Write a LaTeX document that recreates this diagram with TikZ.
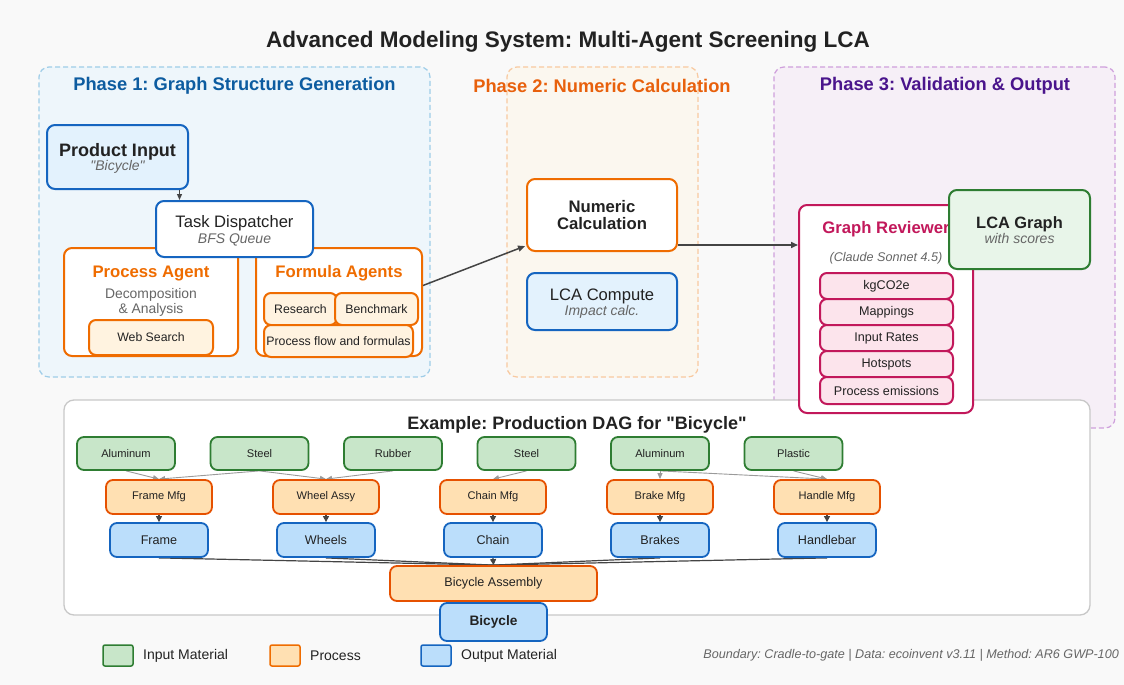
\documentclass[tikz,border=0pt]{standalone}
\usepackage{fontspec}
\setmainfont{Liberation Sans}[Ligatures=TeXOff]
\usetikzlibrary{arrows.meta,calc}
\pgfdeclarelayer{bg}
\pgfdeclarelayer{edges}
\pgfsetlayers{bg,edges,main}
\definecolor{cBlue}{HTML}{1565C0}
\definecolor{cBlueL}{HTML}{E3F2FD}
\definecolor{cBlueM}{HTML}{BBDEFB}
\definecolor{cOr}{HTML}{EF6C00}
\definecolor{cOrD}{HTML}{E65100}
\definecolor{cOrL}{HTML}{FFF3E0}
\definecolor{cOrM}{HTML}{FFE0B2}
\definecolor{cGr}{HTML}{2E7D32}
\definecolor{cGrL}{HTML}{E8F5E9}
\definecolor{cGrM}{HTML}{C8E6C9}
\definecolor{cMag}{HTML}{C2185B}
\definecolor{cMagL}{HTML}{FCE4EC}
\definecolor{pOneB}{HTML}{9FCDE8}
\definecolor{pOneF}{HTML}{EEF6FB}
\definecolor{pTwoB}{HTML}{F8C9A0}
\definecolor{pTwoF}{HTML}{FBF7EF}
\definecolor{pThrB}{HTML}{CFA0DC}
\definecolor{pThrF}{HTML}{F6EFF7}
\definecolor{pOneT}{HTML}{0D5CA0}
\definecolor{pTwoT}{HTML}{E8600C}
\definecolor{pThrT}{HTML}{4A148C}
\definecolor{cBg}{HTML}{F9F9F9}
\definecolor{cDag}{HTML}{C8C8C8}
\definecolor{cText}{HTML}{222222}
\definecolor{cGray}{HTML}{666666}
\definecolor{cArr}{HTML}{444444}
\definecolor{cLight}{HTML}{9A9A9A}
\newcommand\fsz[1]{\fontsize{#1}{#1}\selectfont}
\frenchspacing
\begin{document}
\begin{tikzpicture}[x=1pt,y=-1pt,
  box/.style={draw, rounded corners=8pt, line width=2pt, inner sep=0pt},
  bluebox/.style={box, draw=cBlue, fill=cBlueL},
  whiteblue/.style={box, draw=cBlue, fill=white},
  whiteor/.style={box, draw=cOr, fill=white},
  orsmall/.style={box, draw=cOr, fill=cOrL, rounded corners=7pt, text=cText, font=\fsz{12.3}},
  magsmall/.style={box, draw=cMag, fill=cMagL, rounded corners=7pt, text=cText, font=\fsz{12.6}},
  phase/.style={draw, dashed, dash pattern=on 5pt off 3pt, line width=1.2pt, rounded corners=10pt, inner sep=0pt},
  ttl/.style={inner sep=0pt, yshift=-2pt, font=\bfseries\fsz{18.3}},
  txt/.style={inner sep=0pt, yshift=-1.5pt, text=cText},
  sub/.style={inner sep=0pt, yshift=-1.5pt, text=cGray, font=\itshape\fsz{14}},
  inode/.style={draw=cGr, fill=cGrM, line width=1.8pt, rounded corners=7pt, minimum width=98pt, minimum height=33pt, inner sep=0pt, text=cText, font=\fsz{11.1}},
  pnode/.style={draw=cOrD, fill=cOrM, line width=1.8pt, rounded corners=7pt, minimum width=106pt, minimum height=34pt, inner sep=0pt, text=cText, font=\fsz{11.1}},
  onode/.style={draw=cBlue, fill=cBlueM, line width=1.8pt, rounded corners=7pt, minimum width=98pt, minimum height=34pt, inner sep=0pt, text=cText, font=\fsz{12.6}},
  darr/.style={draw=cArr, line width=1.5pt, -{Triangle[length=7pt,width=6pt]}},
  garr/.style={draw=cLight, line width=0.9pt, -{Triangle[length=6pt,width=5pt]}},
  lnk/.style={draw=cArr, line width=1.2pt},
  legsq/.style={draw, line width=1.5pt, rounded corners=2pt, minimum width=30pt, minimum height=21pt, inner sep=0pt},
  legtx/.style={inner sep=0pt, anchor=west, text=cText, font=\fsz{14}}
]
\useasboundingbox (0,0) rectangle (1124,685);
\begin{pgfonlayer}{bg}
\fill[cBg] (0,0) rectangle (1124,685);
\node[phase, draw=pOneB, fill=pOneF, minimum width=391pt, minimum height=310pt] (ph1) at (234.5,222) {};
\node[phase, draw=pTwoB, fill=pTwoF, minimum width=191pt, minimum height=310pt] (ph2) at (602.5,222) {};
\node[phase, draw=pThrB, fill=pThrF, minimum width=341pt, minimum height=361pt] (ph3) at (944.5,247.5) {};
\node[draw=cDag, fill=white, line width=1.3pt, rounded corners=10pt, minimum width=1026pt, minimum height=215pt, inner sep=0pt] (dag) at (577,507.5) {};
\end{pgfonlayer}

% title
\node[txt, font=\bfseries\fsz{22.5}] (title) at (568,40) {Advanced Modeling System: Multi-Agent Screening LCA};
\node[ttl, text=pOneT] (ph1t) at (234.5,84) {Phase 1: Graph Structure Generation};
\node[ttl, text=pTwoT] (ph2t) at (602,84) {Phase 2: Numeric Calculation};
\node[ttl, text=pThrT] (ph3t) at (945,84) {Phase 3: Validation \& Output};

% Phase 1
\node[bluebox, minimum width=141pt, minimum height=64pt] (prod) at (117.5,157) {};
\node[txt, font=\bfseries\fsz{18}] (prodT) at (117.5,150) {Product Input};
\node[sub] (prodS) at (117.5,165) {"Bicycle"};

\node[whiteor, minimum width=174pt, minimum height=108pt] (pa) at (151,302) {};
\node[txt, text=cOr, font=\bfseries\fsz{16.7}] (paT) at (151,272) {Process Agent};
\node[txt, text=cGray, font=\fsz{13.9}] (paD1) at (151,293) {Decomposition};
\node[txt, text=cGray, font=\fsz{13.9}] (paD2) at (151,308) {\& Analysis};
\node[orsmall, minimum width=124pt, minimum height=35pt] (web) at (151,337.5) {Web Search};

\node[whiteor, minimum width=166pt, minimum height=108pt] (fa) at (339,302) {};
\node[txt, text=cOr, font=\bfseries\fsz{16.7}] (faT) at (339,272) {Formula Agents};
\node[orsmall, minimum width=73pt, minimum height=32pt] (res) at (300.5,309) {Research};
\node[orsmall, minimum width=83pt, minimum height=32pt] (bench) at (376.5,309) {Benchmark};
\node[orsmall, minimum width=149pt, minimum height=32pt] (pff) at (338.5,341) {Process flow and formulas};

\node[whiteblue, minimum width=157pt, minimum height=56pt] (disp) at (234.5,229) {};
\node[txt, font=\fsz{16.6}] (dispT) at (234.5,222) {Task Dispatcher};
\node[sub] (dispS) at (234.5,238) {BFS Queue};

% Phase 2
\node[whiteor, minimum width=150pt, minimum height=72pt, align=center, text=cText, font=\bfseries\fsz{16.7}] (num) at (602,215) {Numeric\\[1pt]Calculation};
\node[bluebox, minimum width=150pt, minimum height=57pt] (lca) at (602,301.5) {};
\node[txt, font=\fsz{16.6}] (lcaT) at (602,295) {LCA Compute};
\node[sub] (lcaS) at (602,310) {Impact calc.};

% Phase 3
\node[box, draw=cMag, fill=white, minimum width=174pt, minimum height=208pt] (gr) at (886,309) {};
\node[txt, text=cMag, font=\bfseries\fsz{16.7}] (grT) at (886,228) {Graph Reviewer};
\node[txt, text=cGray, font=\itshape\fsz{12.6}] (grS) at (886,257) {(Claude Sonnet 4.5)};
\node[magsmall, minimum width=133pt, minimum height=26pt] (it1) at (886.5,286) {kgCO2e};
\node[magsmall, minimum width=133pt, minimum height=26pt] (it2) at (886.5,312) {Mappings};
\node[magsmall, minimum width=133pt, minimum height=26pt] (it3) at (886.5,338) {Input Rates};
\node[magsmall, minimum width=133pt, minimum height=26pt] (it4) at (886.5,364) {Hotspots};
\node[magsmall, minimum width=133pt, minimum height=27pt] (it5) at (886.5,390.5) {Process emissions};
\node[box, draw=cGr, fill=cGrL, minimum width=141pt, minimum height=79pt] (lcag) at (1019.5,229.5) {};
\node[txt, font=\bfseries\fsz{16.4}] (lcagT) at (1019.5,223) {LCA Graph};
\node[sub] (lcagS) at (1019.5,237) {with scores};

% phase arrows
\coordinate (pd1) at ($(prod.south east)+(-9.5,0)$);
\draw[darr, line width=1.2pt, -{Triangle[length=6pt,width=5pt]}] (pd1) -- (pd1 |- disp.north);
\coordinate (fa1) at ($(fa.north east)!0.35!(fa.south east)$);
\coordinate (nm1) at ($(num.north west)!0.92!(num.south west)+(-1,0)$);
\draw[darr] (fa1) -- (nm1);
\coordinate (nm2) at ($(num.south east)+(0,-7)$);
\draw[darr] (nm2) -- (nm2 -| gr.west);

% DAG
\node[txt, font=\bfseries\fsz{18}] (dagT) at (577,423) {Example: Production DAG for "Bicycle"};
\node[inode] (in1) at (126,453.5) {Aluminum};
\node[inode] (in2) at (259.5,453.5) {Steel};
\node[inode] (in3) at (393,453.5) {Rubber};
\node[inode] (in4) at (526.5,453.5) {Steel};
\node[inode] (in5) at (660,453.5) {Aluminum};
\node[inode] (in6) at (793.5,453.5) {Plastic};
\node[pnode] (pm1) at (159,497) {Frame Mfg};
\node[pnode] (pm2) at (326,497) {Wheel Assy};
\node[pnode] (pm3) at (493,497) {Chain Mfg};
\node[pnode] (pm4) at (660,497) {Brake Mfg};
\node[pnode] (pm5) at (827,497) {Handle Mfg};
\node[onode] (out1) at (159,540) {Frame};
\node[onode] (out2) at (326,540) {Wheels};
\node[onode] (out3) at (493,540) {Chain};
\node[onode] (out4) at (660,540) {Brakes};
\node[onode] (out5) at (827,540) {Handlebar};
\node[pnode, minimum width=207pt, minimum height=35pt, font=\fsz{12.6}] (asm) at (493.5,583.5) {Bicycle Assembly};
\node[onode, minimum width=107pt, minimum height=38pt, font=\bfseries\fsz{13.7}] (bike) at (493.5,622) {Bicycle};

\begin{pgfonlayer}{edges}
\draw[garr] (in1.south) -- (pm1.north);
\draw[garr] (in2.south) -- (pm1.north);
\draw[garr] (in2.south) -- (pm2.north);
\draw[garr] (in3.south) -- (pm2.north);
\draw[garr] (in4.south) -- (pm3.north);
\draw[garr] (in5.south) -- (pm4.north);
\draw[garr] (in5.south) -- (pm5.north);
\draw[garr] (in6.south) -- (pm5.north);
\foreach \i in {1,...,5}{
  \draw[darr, line width=1.2pt, -{Triangle[length=6pt,width=6pt]}] (pm\i.south) -- (out\i.north);
}
\draw[lnk] (out1.south) -- (asm.north);
\draw[lnk] (out2.south) -- (asm.north);
\draw[lnk, -{Triangle[length=6pt,width=6pt]}] (out3.south) -- (asm.north);
\draw[lnk] (out4.south) -- (asm.north);
\draw[lnk] (out5.south) -- (asm.north);
\draw[lnk] (asm.south) -- (bike.north);
\end{pgfonlayer}

% legend
\node[legsq, draw=cGr, fill=cGrM] (lg1) at (118,655.5) {};
\node[legtx] (lg1t) at (143,655.5) {Input Material};
\node[legsq, draw=cOr, fill=cOrM] (lg2) at (285,655.5) {};
\node[legtx] (lg2t) at (310,655.5) {Process};
\node[legsq, draw=cBlue, fill=cBlueM] (lg3) at (436,655.5) {};
\node[legtx] (lg3t) at (461,655.5) {Output Material};
\node[inner sep=0pt, anchor=east, text=cGray, font=\itshape\fsz{12.6}] (foot) at (1119,655.5) {Boundary: Cradle-to-gate | Data: ecoinvent v3.11 | Method: AR6 GWP-100};
\end{tikzpicture}
\end{document}
